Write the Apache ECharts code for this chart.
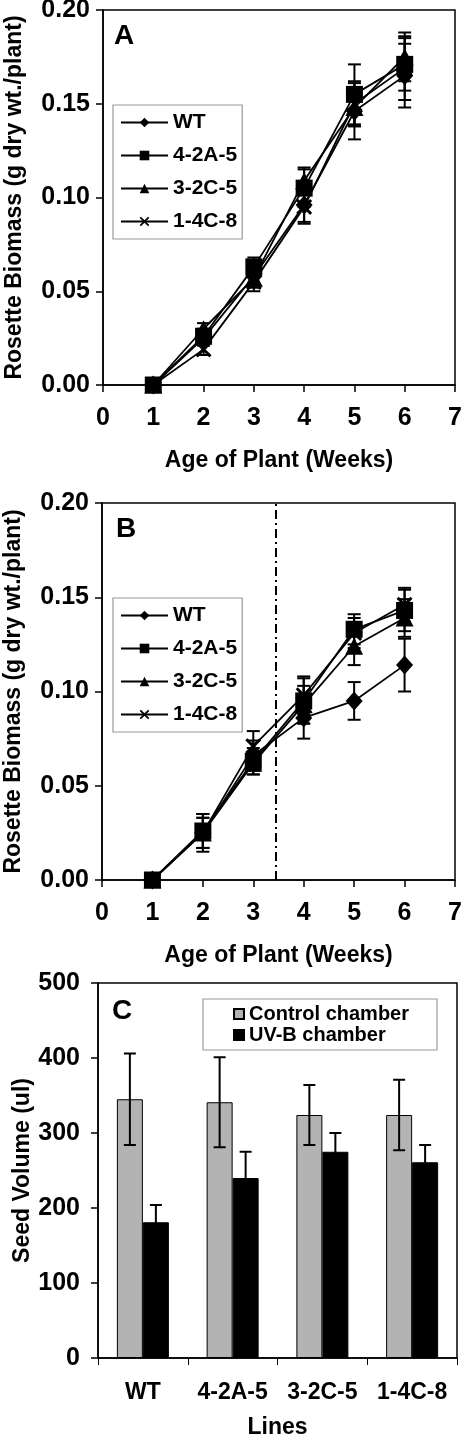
<!DOCTYPE html>
<html>
<head>
<meta charset="utf-8">
<script src="https://cdn.jsdelivr.net/npm/echarts@6/dist/echarts.min.js"></script>
<style>
html,body{margin:0;padding:0;background:#fff;}
#chart{width:466px;height:1436px;}
</style>
</head>
<body>
<div id="chart"></div>
<script>
// ---------- DATA ----------
const weeks = [1, 2, 3, 4, 5, 6];
const lineNames = ['WT', '4-2A-5', '3-2C-5', '1-4C-8'];

// Panel A (rosette biomass, g dry wt./plant)
const aWT      = [0, 0.025, 0.058, 0.096, 0.146, 0.165];
const aWTErr   = [0, 0.004, 0.006, 0.010, 0.015, 0.017];
const a42A5    = [0, 0.026, 0.063, 0.105, 0.155, 0.171];
const a42A5Err = [0, 0.004, 0.005, 0.010, 0.016, 0.014];
const a32C5    = [0, 0.030, 0.057, 0.109, 0.148, 0.175];
const a32C5Err = [0, 0.003, 0.005, 0.007, 0.010, 0.013];
const a14C8    = [0, 0.019, 0.055, 0.095, 0.150, 0.169];
const a14C8Err = [0, 0.003, 0.005, 0.008, 0.012, 0.017];

// Panel B
const bWT      = [0, 0.025, 0.066, 0.086, 0.095, 0.114];
const bWTErr   = [0, 0.010, 0.008, 0.011, 0.010, 0.014];
const b42A5    = [0, 0.026, 0.063, 0.095, 0.133, 0.143];
const b42A5Err = [0, 0.009, 0.007, 0.012, 0.008, 0.011];
const b32C5    = [0, 0.025, 0.062, 0.093, 0.124, 0.139];
const b32C5Err = [0, 0.008, 0.006, 0.010, 0.010, 0.010];
const b14C8    = [0, 0.025, 0.071, 0.098, 0.131, 0.146];
const b14C8Err = [0, 0.008, 0.008, 0.010, 0.008, 0.009];
const uvStartWeek = 3.45;

// Panel C (seed volume, ul)
const plantLines = ['WT', '4-2A-5', '3-2C-5', '1-4C-8'];
const control    = [345, 341, 324, 324];
const controlErr = [61, 60, 40, 47];
const uvb        = [181, 240, 275, 261];
const uvbErr     = [23, 35, 25, 23];

// ---------- STYLE ----------
const FONT = '"Liberation Sans", Arial, Helvetica, sans-serif';
const TICKFS = 25;
const xMark = 'path://M0,1.3 L1.3,0 L5,3.7 L8.7,0 L10,1.3 L6.3,5 L10,8.7 L8.7,10 L5,6.3 L1.3,10 L0,8.7 L3.7,5 Z';
const symbols = ['diamond', 'rect', 'triangle', xMark];
const symSizes = [[17, 19], 17, [18, 17], 16];

const chart = echarts.init(document.getElementById('chart'), null, {renderer: 'canvas'});

function valAxisX(gi) {
  return {
    type: 'value', gridIndex: gi, min: 0, max: 7, interval: 1,
    name: 'Age of Plant (Weeks)', nameLocation: 'middle', nameGap: 64, nameMoveOverlap: false,
    nameTextStyle: {fontSize: 23, fontWeight: 'bold', color: '#000', fontFamily: FONT},
    axisLine: {show: true, onZero: false, lineStyle: {color: '#000', width: 1.5}},
    axisTick: {show: true, length: 7, lineStyle: {color: '#000', width: 1.5}},
    axisLabel: {fontSize: TICKFS, fontWeight: 'bold', color: '#000', fontFamily: FONT, margin: 21},
    splitLine: {show: false}
  };
}
function valAxisY(gi) {
  return {
    type: 'value', gridIndex: gi, min: 0, max: 0.2, interval: 0.05,
    name: 'Rosette Biomass (g dry wt./plant)', nameLocation: 'middle', nameGap: 77, nameMoveOverlap: false,
    nameTextStyle: {fontSize: 23, fontWeight: 'bold', color: '#000', fontFamily: FONT},
    axisLine: {show: true, lineStyle: {color: '#000', width: 1.5}},
    axisTick: {show: true, length: 7, lineStyle: {color: '#000', width: 1.5}},
    axisLabel: {fontSize: TICKFS, fontWeight: 'bold', color: '#000', fontFamily: FONT, margin: 13,
      formatter: v => v.toFixed(2)},
    splitLine: {show: false}
  };
}

function errRenderer(offset, capHalf) {
  return function (params, api) {
    const x = api.value(0), lo = api.value(1), hi = api.value(2);
    if (hi - lo <= 0) return null;
    const pHi = api.coord([x, hi]);
    const pLo = api.coord([x, lo]);
    const cx = pHi[0] + offset;
    const st = {stroke: '#000', lineWidth: 2};
    return {
      type: 'group',
      children: [
        {type: 'line', shape: {x1: cx, y1: pHi[1], x2: cx, y2: pLo[1]}, style: st},
        {type: 'line', shape: {x1: cx - capHalf, y1: pHi[1], x2: cx + capHalf, y2: pHi[1]}, style: st},
        {type: 'line', shape: {x1: cx - capHalf, y1: pLo[1], x2: cx + capHalf, y2: pLo[1]}, style: st}
      ]
    };
  };
}

const series = [];
function addPanel(gi, vals, errs, withMarkLine) {
  vals.forEach((v, i) => {
    series.push({
      type: 'custom', name: lineNames[i] + ' err', xAxisIndex: gi, yAxisIndex: gi,
      renderItem: errRenderer(0, 6.5), z: 1, silent: true,
      encode: {x: 0, y: [1, 2]},
      data: weeks.map((w, k) => [w, v[k] - errs[i][k], v[k] + errs[i][k]])
    });
  });
  vals.forEach((v, i) => {
    const s = {
      type: 'line', name: lineNames[i], xAxisIndex: gi, yAxisIndex: gi,
      data: weeks.map((w, k) => [w, v[k]]),
      symbol: symbols[i], symbolSize: symSizes[i], showAllSymbol: true,
      lineStyle: {color: '#000', width: 1.8},
      itemStyle: {color: '#000', borderWidth: 0},
      z: 3, animation: false
    };
    if (withMarkLine && i === 0) {
      s.markLine = {
        silent: true, symbol: 'none', label: {show: false},
        lineStyle: {color: '#000', width: 2, type: [9, 4, 2, 4]},
        data: [{xAxis: uvStartWeek}]
      };
    }
    series.push(s);
  });
}
addPanel(0, [aWT, a42A5, a32C5, a14C8], [aWTErr, a42A5Err, a32C5Err, a14C8Err], false);
addPanel(1, [bWT, b42A5, b32C5, b14C8], [bWTErr, b42A5Err, b32C5Err, b14C8Err], true);

const BARW = 26;
series.push({
  type: 'bar', name: 'Control chamber', xAxisIndex: 2, yAxisIndex: 2,
  data: control, barWidth: BARW, barGap: '0%',
  itemStyle: {color: '#b3b3b3', borderColor: '#000', borderWidth: 1}, z: 2, animation: false
});
series.push({
  type: 'bar', name: 'UV-B chamber', xAxisIndex: 2, yAxisIndex: 2,
  data: uvb, barWidth: BARW, barGap: '0%',
  itemStyle: {color: '#000', borderColor: '#000', borderWidth: 1}, z: 2, animation: false
});
series.push({
  type: 'custom', name: 'control err', xAxisIndex: 2, yAxisIndex: 2, z: 4, silent: true,
  renderItem: errRenderer(-BARW / 2, 6),
  encode: {x: 0, y: [1, 2]},
  data: control.map((v, k) => [k, v - controlErr[k], v + controlErr[k]])
});
series.push({
  type: 'custom', name: 'uvb err', xAxisIndex: 2, yAxisIndex: 2, z: 4, silent: true,
  renderItem: errRenderer(BARW / 2, 6),
  encode: {x: 0, y: [1, 2]},
  data: uvb.map((v, k) => [k, v - uvbErr[k], v + uvbErr[k]])
});

const legendLine = (top) => ({
  show: true, orient: 'vertical', left: 113, top: top,
  data: lineNames, selectedMode: false,
  backgroundColor: '#fff', borderColor: '#999', borderWidth: 1.2,
  padding: [7, 5, 7, 7], itemWidth: 47, itemHeight: 12, itemGap: 12, itemTextGap: 5,
  textStyle: {fontSize: 21, fontWeight: 'bold', color: '#000', fontFamily: FONT}
});

const gridBase = {show: true, borderColor: '#000', borderWidth: 1.5, backgroundColor: 'transparent',
  containLabel: false, outerBoundsMode: 'none'};

const option = {
  backgroundColor: '#fff',
  animation: false,
  title: [
    {text: 'A', left: 114, top: 22, padding: 0, textStyle: {fontSize: 28, fontWeight: 'bold', color: '#000', fontFamily: FONT}},
    {text: 'B', left: 116, top: 515, padding: 0, textStyle: {fontSize: 28, fontWeight: 'bold', color: '#000', fontFamily: FONT}},
    {text: 'C', left: 112, top: 997, padding: 0, textStyle: {fontSize: 28, fontWeight: 'bold', color: '#000', fontFamily: FONT}}
  ],
  legend: [
    legendLine(105),
    legendLine(598),
    {
      show: true, orient: 'vertical', left: 203, top: 999,
      data: ['Control chamber', 'UV-B chamber'], selectedMode: false,
      backgroundColor: '#fff', borderColor: '#999', borderWidth: 1.2,
      padding: [5, 28, 5, 30], icon: 'rect', itemWidth: 10, itemHeight: 10, itemGap: 1, itemTextGap: 8,
      textStyle: {fontSize: 20, fontWeight: 'bold', color: '#000', fontFamily: FONT}
    }
  ],
  grid: [
    Object.assign({left: 103, top: 10, width: 352, height: 375}, gridBase),
    Object.assign({left: 102, top: 503, width: 353, height: 377}, gridBase),
    Object.assign({left: 98, top: 983, width: 359, height: 375}, gridBase)
  ],
  xAxis: [
    valAxisX(0),
    valAxisX(1),
    {
      type: 'category', gridIndex: 2, data: plantLines,
      name: 'Lines', nameLocation: 'middle', nameGap: 58, nameMoveOverlap: false,
      nameTextStyle: {fontSize: 23, fontWeight: 'bold', color: '#000', fontFamily: FONT},
      axisLine: {show: true, lineStyle: {color: '#000', width: 1.5}},
      axisTick: {show: true, length: 7, alignWithLabel: false, lineStyle: {color: '#000', width: 1}},
      axisLabel: {interval: 0, fontSize: 23, fontWeight: 'bold', color: '#000', fontFamily: FONT, margin: 23},
      splitLine: {show: false}
    }
  ],
  yAxis: [
    valAxisY(0),
    valAxisY(1),
    {
      type: 'value', gridIndex: 2, min: 0, max: 500, interval: 100,
      name: 'Seed Volume (ul)', nameLocation: 'middle', nameGap: 64, nameMoveOverlap: false,
      nameTextStyle: {fontSize: 23, fontWeight: 'bold', color: '#000', fontFamily: FONT},
      axisLine: {show: true, lineStyle: {color: '#000', width: 1.5}},
      axisTick: {show: true, length: 7, lineStyle: {color: '#000', width: 1.5}},
      axisLabel: {fontSize: TICKFS, fontWeight: 'bold', color: '#000', fontFamily: FONT, margin: 18},
      splitLine: {show: false}
    }
  ],
  series: series
};
chart.setOption(option);
</script>
</body>
</html>
